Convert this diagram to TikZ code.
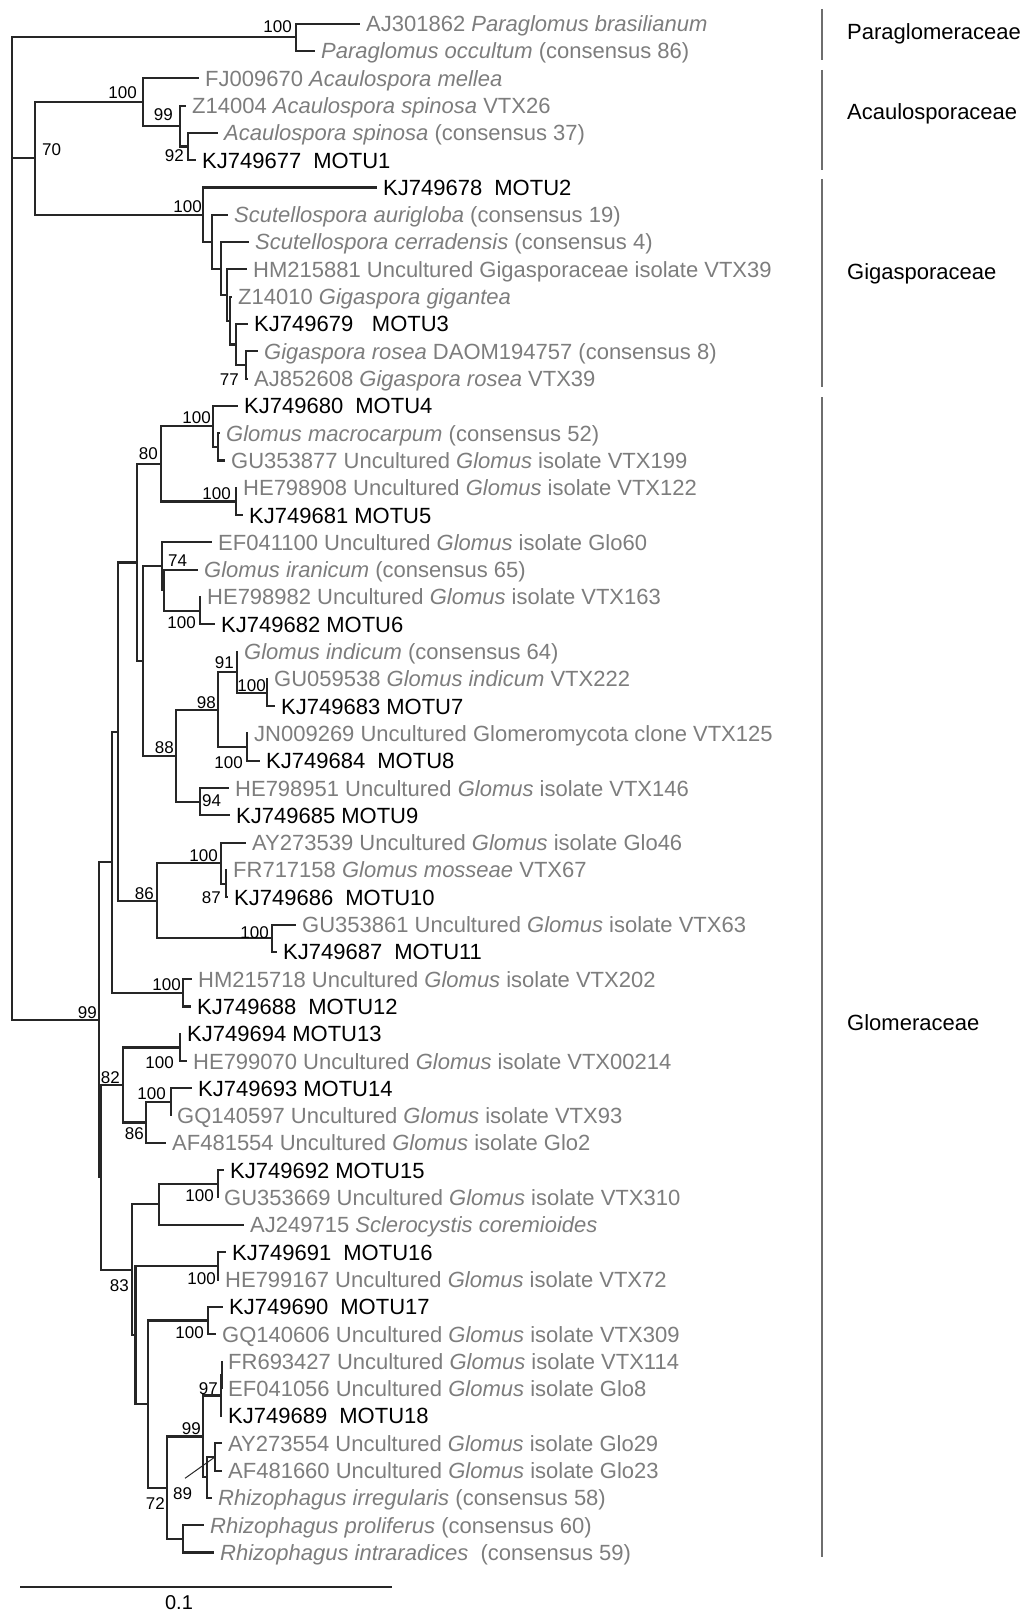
\documentclass[tikz,border=0pt]{standalone}
\usepackage{fontspec}
\setmainfont{Liberation Sans}
\definecolor{leafgray}{RGB}{125,125,125}
\definecolor{bargray}{RGB}{110,110,110}
\newcommand\mkleaf[4]{\coordinate (t#1) at (#2,{23.7+(#1-1)*27.3}); \node[#3] (l#1) at (t#1) {#4};}
\begin{document}
\begin{tikzpicture}[x=1pt,y=-1pt,
 br/.style={line width=2.1pt, draw=black!85},
 lf/.style={anchor=west, inner sep=0pt, xshift=6pt, text height=15.8pt, text depth=0pt, font=\fontsize{22}{26}\selectfont, text=leafgray},
 mo/.style={lf, text=black},
 bs/.style={anchor=base east, inner sep=0pt, font=\fontsize{17}{20}\selectfont},
 bsw/.style={bs, anchor=base west},
 clade/.style={anchor=west, inner sep=0pt, text height=15.8pt, text depth=0pt, font=\fontsize{22}{26}\selectfont, text=black},
 cbar/.style={line width=1.6pt, draw=bargray}]
\useasboundingbox (0,0) rectangle (1024,1613);
% leaves
\mkleaf{1}{360}{lf}{AJ301862 \textit{Paraglomus brasilianum}}
\mkleaf{2}{315}{lf}{\textit{Paraglomus occultum} (consensus 86)}
\mkleaf{3}{199}{lf}{FJ009670 \textit{Acaulospora mellea}}
\mkleaf{4}{186}{lf}{Z14004 \textit{Acaulospora spinosa} VTX26}
\mkleaf{5}{218}{lf}{\textit{Acaulospora spinosa} (consensus 37)}
\mkleaf{6}{196}{mo}{KJ749677\hspace{0.55em}MOTU1}
\mkleaf{7}{377}{mo}{KJ749678\hspace{0.55em}MOTU2}
\mkleaf{8}{228}{lf}{\textit{Scutellospora aurigloba} (consensus 19)}
\mkleaf{9}{249}{lf}{\textit{Scutellospora cerradensis} (consensus 4)}
\mkleaf{10}{247}{lf}{HM215881 Uncultured Gigasporaceae isolate VTX39}
\mkleaf{11}{232}{lf}{Z14010 \textit{Gigaspora gigantea}}
\mkleaf{12}{248}{mo}{KJ749679\hspace{0.85em}MOTU3}
\mkleaf{13}{258}{lf}{\textit{Gigaspora rosea} DAOM194757 (consensus 8)}
\mkleaf{14}{248}{lf}{AJ852608 \textit{Gigaspora rosea} VTX39}
\mkleaf{15}{238}{mo}{KJ749680\hspace{0.55em}MOTU4}
\mkleaf{16}{220}{lf}{\textit{Glomus macrocarpum} (consensus 52)}
\mkleaf{17}{225}{lf}{GU353877 Uncultured \textit{Glomus} isolate VTX199}
\mkleaf{18}{237}{lf}{HE798908 Uncultured \textit{Glomus} isolate VTX122}
\mkleaf{19}{243}{mo}{KJ749681 MOTU5}
\mkleaf{20}{212}{lf}{EF041100 Uncultured \textit{Glomus} isolate Glo60}
\mkleaf{21}{198}{lf}{\textit{Glomus iranicum} (consensus 65)}
\mkleaf{22}{201}{lf}{HE798982 Uncultured \textit{Glomus} isolate VTX163}
\mkleaf{23}{215}{mo}{KJ749682 MOTU6}
\mkleaf{24}{238}{lf}{\textit{Glomus indicum} (consensus 64)}
\mkleaf{25}{268}{lf}{GU059538 \textit{Glomus indicum} VTX222}
\mkleaf{26}{275}{mo}{KJ749683 MOTU7}
\mkleaf{27}{248}{lf}{JN009269 Uncultured Glomeromycota clone VTX125}
\mkleaf{28}{260}{mo}{KJ749684\hspace{0.55em}MOTU8}
\mkleaf{29}{229}{lf}{HE798951 Uncultured \textit{Glomus} isolate VTX146}
\mkleaf{30}{230}{mo}{KJ749685 MOTU9}
\mkleaf{31}{246}{lf}{AY273539 Uncultured \textit{Glomus} isolate Glo46}
\mkleaf{32}{227}{lf}{FR717158 \textit{Glomus mosseae} VTX67}
\mkleaf{33}{228}{mo}{KJ749686\hspace{0.55em}MOTU10}
\mkleaf{34}{296}{lf}{GU353861 Uncultured \textit{Glomus} isolate VTX63}
\mkleaf{35}{277}{mo}{KJ749687\hspace{0.55em}MOTU11}
\mkleaf{36}{192}{lf}{HM215718 Uncultured \textit{Glomus} isolate VTX202}
\mkleaf{37}{191}{mo}{KJ749688\hspace{0.55em}MOTU12}
\mkleaf{38}{181}{mo}{KJ749694 MOTU13}
\mkleaf{39}{187}{lf}{HE799070 Uncultured \textit{Glomus} isolate VTX00214}
\mkleaf{40}{192}{mo}{KJ749693 MOTU14}
\mkleaf{41}{171}{lf}{GQ140597 Uncultured \textit{Glomus} isolate VTX93}
\mkleaf{42}{166}{lf}{AF481554 Uncultured \textit{Glomus} isolate Glo2}
\mkleaf{43}{224}{mo}{KJ749692 MOTU15}
\mkleaf{44}{218}{lf}{GU353669 Uncultured \textit{Glomus} isolate VTX310}
\mkleaf{45}{244}{lf}{AJ249715 \textit{Sclerocystis coremioides}}
\mkleaf{46}{226}{mo}{KJ749691\hspace{0.55em}MOTU16}
\mkleaf{47}{219}{lf}{HE799167 Uncultured \textit{Glomus} isolate VTX72}
\mkleaf{48}{223}{mo}{KJ749690\hspace{0.55em}MOTU17}
\mkleaf{49}{216}{lf}{GQ140606 Uncultured \textit{Glomus} isolate VTX309}
\mkleaf{50}{222}{lf}{FR693427 Uncultured \textit{Glomus} isolate VTX114}
\mkleaf{51}{222}{lf}{EF041056 Uncultured \textit{Glomus} isolate Glo8}
\mkleaf{52}{222}{mo}{KJ749689\hspace{0.55em}MOTU18}
\mkleaf{53}{222}{lf}{AY273554 Uncultured \textit{Glomus} isolate Glo29}
\mkleaf{54}{222}{lf}{AF481660 Uncultured \textit{Glomus} isolate Glo23}
\mkleaf{55}{212}{lf}{\textit{Rhizophagus irregularis} (consensus 58)}
\mkleaf{56}{204}{lf}{\textit{Rhizophagus proliferus} (consensus 60)}
\mkleaf{57}{214}{lf}{\textit{Rhizophagus intraradices}\hspace{0.55em}(consensus 59)}
% internal nodes
\coordinate (R0) at (12,158.4);
\coordinate (P) at (296,37.35);
\coordinate (N70) at (35,158.4);
\coordinate (NA) at (143,102.2);
\coordinate (N99a) at (180,126.1);
\coordinate (N92) at (188,146.55);
\coordinate (NG) at (203,214.6);
\coordinate (GA) at (212,241.7);
\coordinate (GB) at (221,268.55);
\coordinate (GC) at (227,295.0);
\coordinate (GD) at (230,320.6);
\coordinate (GE) at (236,344.5);
\coordinate (GF) at (246,364.95);
\coordinate (N99big) at (99,1019.8);
\coordinate (W) at (112,862.2);
\coordinate (Z) at (118,731.6);
\coordinate (X) at (137,562.45);
\coordinate (N80) at (161,463.9);
\coordinate (M4) at (213,426.4);
\coordinate (M4b) at (218,446.85);
\coordinate (M5) at (236,501.45);
\coordinate (Y) at (143,661);
\coordinate (N74) at (162,566.3);
\coordinate (N74b) at (164,590.2);
\coordinate (M6) at (200,610.65);
\coordinate (N88) at (176,755.7);
\coordinate (N98) at (218,709.6);
\coordinate (N91) at (237,672.1);
\coordinate (M7) at (267,692.55);
\coordinate (M8) at (247,747.15);
\coordinate (N94) at (200,801.75);
\coordinate (N86) at (157,900.7);
\coordinate (M10) at (221,863.2);
\coordinate (N87) at (226,883.65);
\coordinate (M11) at (272,938.25);
\coordinate (M12) at (183,992.85);
\coordinate (Q) at (101,1177.35);
\coordinate (N82) at (123,1085);
\coordinate (M13) at (180,1047.45);
\coordinate (N86b) at (146,1122.5);
\coordinate (M14) at (171,1102.05);
\coordinate (N83) at (132,1269.7);
\coordinate (R) at (159,1204.4);
\coordinate (M15) at (218,1183.95);
\coordinate (S) at (135.5,1335);
\coordinate (M16) at (218,1265.85);
\coordinate (T) at (148,1404.1);
\coordinate (M17) at (208,1320.45);
\coordinate (N72) at (167,1487.7);
\coordinate (N99c) at (203,1436.5);
\coordinate (N97) at (221,1395.5);
\coordinate (N97b) at (222,1375.05);
\coordinate (N89) at (207,1477.4);
\coordinate (U) at (215,1456.95);
\coordinate (V) at (183,1538.85);
% branches
\draw[br] (R0) |- (P) (R0) |- (N70) (R0) |- (N99big);
\draw[br] (P) |- (t1) (P) |- (t2);
\draw[br] (N70) |- (NA) (N70) |- (NG);
\draw[br] (NA) |- (t3) (NA) |- (N99a);
\draw[br] (N99a) |- (t4) (N99a) |- (N92);
\draw[br] (N92) |- (t5) (N92) |- (t6);
\draw[br] (NG) |- (t7) (NG) |- (GA);
\draw[br] (GA) |- (t8) (GA) |- (GB);
\draw[br] (GB) |- (t9) (GB) |- (GC);
\draw[br] (GC) |- (t10) (GC) |- (GD);
\draw[br] (GD) |- (t11) (GD) |- (GE);
\draw[br] (GE) |- (t12) (GE) |- (GF);
\draw[br] (GF) |- (t13) (GF) |- (t14);
\draw[br] (N99big) |- (W) (N99big) |- (Q);
\draw[br] (W) |- (Z) (W) |- (M12);
\draw[br] (Z) |- (X) (Z) |- (N86);
\draw[br] (X) |- (N80) (X) |- (Y);
\draw[br] (N80) |- (M4) (N80) |- (M5);
\draw[br] (M4) |- (t15) (M4) |- (M4b);
\draw[br] (M4b) |- (t16) (M4b) |- (t17);
\draw[br] (M5) |- (t18) (M5) |- (t19);
\draw[br] (Y) |- (N74) (Y) |- (N88);
\draw[br] (N74) |- (t20) (N74) |- (N74b);
\draw[br] (N74b) |- (t21) (N74b) |- (M6);
\draw[br] (M6) |- (t22) (M6) |- (t23);
\draw[br] (N88) |- (N98) (N88) |- (N94);
\draw[br] (N98) |- (N91) (N98) |- (M8);
\draw[br] (N91) |- (t24) (N91) |- (M7);
\draw[br] (M7) |- (t25) (M7) |- (t26);
\draw[br] (M8) |- (t27) (M8) |- (t28);
\draw[br] (N94) |- (t29) (N94) |- (t30);
\draw[br] (N86) |- (M10) (N86) |- (M11);
\draw[br] (M10) |- (t31) (M10) |- (N87);
\draw[br] (N87) |- (t32) (N87) |- (t33);
\draw[br] (M11) |- (t34) (M11) |- (t35);
\draw[br] (M12) |- (t36) (M12) |- (t37);
\draw[br] (Q) |- (N82) (Q) |- (N83);
\draw[br] (N82) |- (M13) (N82) |- (N86b);
\draw[br] (M13) |- (t38) (M13) |- (t39);
\draw[br] (N86b) |- (M14) (N86b) |- (t42);
\draw[br] (M14) |- (t40) (M14) |- (t41);
\draw[br] (N83) |- (R) (N83) |- (S);
\draw[br] (R) |- (M15) (R) |- (t45);
\draw[br] (M15) |- (t43) (M15) |- (t44);
\draw[br] (S) |- (M16) (S) |- (T);
\draw[br] (M16) |- (t46) (M16) |- (t47);
\draw[br] (T) |- (M17) (T) |- (N72);
\draw[br] (M17) |- (t48) (M17) |- (t49);
\draw[br] (N72) |- (N99c) (N72) |- (V);
\draw[br] (N99c) |- (N97) (N99c) |- (N89);
\draw[br] (N97) |- (N97b) (N97) |- (t52);
\draw[br] (N97b) |- (t50) (N97b) |- (t51);
\draw[br] (N89) |- (U) (N89) |- (t55);
\draw[br] (U) |- (t53) (U) |- (t54);
\draw[br] (V) |- (t56) (V) |- (t57);
% bootstrap values
\node[bs] (bP) at (292,33) {100};
\node[bsw] (b70) at (42,156) {70};
\node[bs] (bNA) at (137,99) {100};
\node[bs] (b99a) at (173,121) {99};
\node[bs] (b92) at (184,162) {92};
\node[bs] (bNG) at (202,213) {100};
\node[bs] (b77) at (239,385) {77};
\node[bs] (bM4) at (211,423) {100};
\node[bs] (b80) at (158,459) {80};
\node[bs] (bM5) at (231,499) {100};
\node[bsw] (b74) at (168,566) {74};
\node[bs] (bM6) at (196,628) {100};
\node[bs] (b91) at (234,668) {91};
\node[bs] (bM7) at (266,691) {100};
\node[bs] (b98) at (216,708) {98};
\node[bs] (b88) at (174,753) {88};
\node[bs] (bM8) at (243,768) {100};
\node[bsw] (b94) at (202,806) {94};
\node[bs] (bM10) at (218,861) {100};
\node[bs] (b87) at (221,903) {87};
\node[bs] (b86) at (154,899) {86};
\node[bs] (bM11) at (269,938) {100};
\node[bs] (bM12) at (181,990) {100};
\node[bs] (b99big) at (97,1018) {99};
\node[bs] (bM13) at (174,1068) {100};
\node[bs] (b82) at (120,1083) {82};
\node[bs] (bM14) at (166,1099) {100};
\node[bs] (b86b) at (144,1139) {86};
\node[bs] (bM15) at (214,1201) {100};
\node[bs] (bM16) at (216,1284) {100};
\node[bs] (b83) at (129,1291) {83};
\node[bs] (bM17) at (204,1338) {100};
\node[bs] (b97) at (218,1394) {97};
\node[bs] (b99c) at (201,1434) {99};
\node[bsw] (b89) at (173,1499) {89};
\node[bs] (b72) at (165,1509) {72};
\coordinate (p89) at (185,1478.3);
\draw[line width=1pt, black!85] (p89) -- (U);
% clade bars and names
\coordinate (c1a) at (822,9); \coordinate (c1b) at (822,60);
\coordinate (c2a) at (822,70); \coordinate (c2b) at (822,170);
\coordinate (c3a) at (822,179); \coordinate (c3b) at (822,387);
\coordinate (c4a) at (822,397); \coordinate (c4b) at (822,1557);
\draw[cbar] (c1a) -- (c1b);
\draw[cbar] (c2a) -- (c2b);
\draw[cbar] (c3a) -- (c3b);
\draw[cbar] (c4a) -- (c4b);
\node[clade] (n1) at (847,32) {Paraglomeraceae};
\node[clade] (n2) at (847,112) {Acaulosporaceae};
\node[clade] (n3) at (847,272) {Gigasporaceae};
\node[clade] (n4) at (847,1023) {Glomeraceae};
% scale bar
\coordinate (sa) at (20,1587); \coordinate (sb) at (392,1587);
\draw[line width=2.1pt, black!85] (sa) -- (sb);
\node[anchor=base, inner sep=0pt, font=\fontsize{20}{24}\selectfont] (sl) at (179,1609) {0.1};
\end{tikzpicture}
\end{document}
